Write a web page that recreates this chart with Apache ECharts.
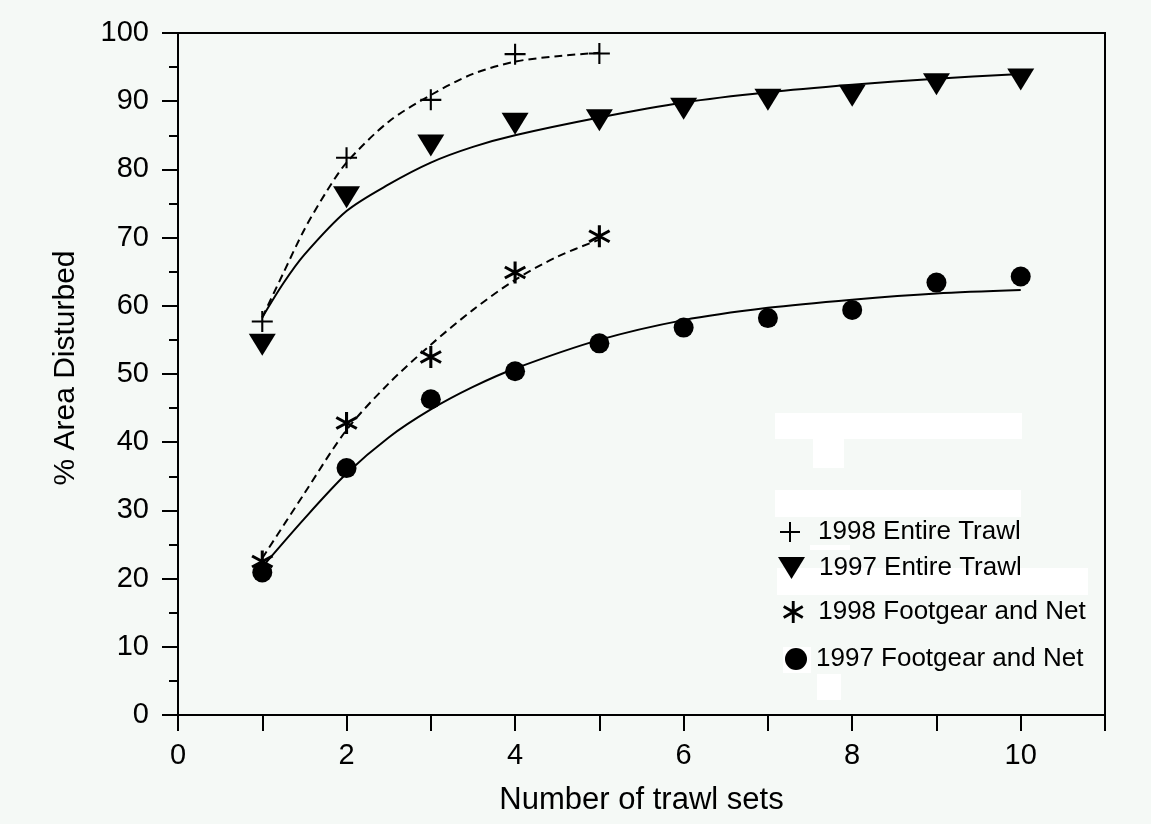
<!DOCTYPE html>
<html>
<head>
<meta charset="utf-8">
<title>% Area Disturbed vs Number of trawl sets</title>
<script src="https://cdn.jsdelivr.net/npm/echarts@6/dist/echarts.min.js"></script>
<style>
  html, body { margin: 0; padding: 0; background: #f5f9f6; }
  #main { width: 1151px; height: 824px; }
</style>
</head>
<body>
<div id="main"></div>
<script>
const trawlSets = [1, 2, 3, 4, 5, 6, 7, 8, 9, 10];
const entire1998 = [57.7, 81.7, 90.2, 96.9, 97.0];
const entire1997 = [54.3, 75.9, 83.5, 86.7, 87.2, 88.9, 90.2, 90.8, 92.5, 93.2];
const footgear1998 = [22.5, 42.8, 52.5, 64.9, 70.2];
const footgear1997 = [20.9, 36.2, 46.3, 50.4, 54.5, 56.8, 58.2, 59.4, 63.4, 64.3];

// fitted curves, sampled off the figure
const fitX1998Entire = [1, 1.25, 1.5, 1.75, 2, 2.5, 3, 3.5, 4, 4.5, 5];
const fit1998Entire = [58.3, 64.8, 71.2, 76.5, 81.0, 87.0, 90.9, 94.0, 95.8, 96.6, 97.1];
const fitX1997Entire = [1, 1.25, 1.5, 2, 2.5, 3, 3.5, 4, 5, 6, 7, 8, 9, 10];
const fit1997Entire = [58.3, 63.3, 67.5, 73.9, 77.8, 81.0, 83.3, 85.0, 87.6, 89.8, 91.3, 92.4, 93.3, 94.0];
const fitX1998Foot = [1, 1.5, 2, 2.5, 3, 3.5, 4, 4.5, 5];
const fit1998Foot = [23.0, 32.5, 41.8, 48.6, 54.3, 59.4, 63.8, 67.2, 69.7];
const fitX1997Foot = [1, 1.5, 2, 2.5, 3, 3.5, 4, 5, 6, 7, 8, 9, 10];
const fit1997Foot = [21.7, 28.8, 35.4, 40.7, 44.8, 48.1, 50.8, 55.0, 57.9, 59.7, 60.9, 61.8, 62.3];

const seriesNames = ["1998 Entire Trawl", "1997 Entire Trawl", "1998 Footgear and Net", "1997 Footgear and Net"];

const FONT = "'Liberation Sans', Arial, sans-serif";

// marker shapes
const plusPath = "path://M9,0h2v9h9v2h-9v9h-2v-9h-9v-2h9z";
const triPath = "path://M0,0L27,0L13.5,22Z";
const starPath = "path://M8.7,0h2.6v20h-2.6z" +
  "M2.0,3.87L19.3,13.87L18.0,16.13L0.7,6.13z" +
  "M0.7,13.87L18.0,3.87L19.3,6.13L2.0,16.13z";

const zip = (xs, ys) => ys.map((y, i) => [xs[i], y]);

var chartDom = document.getElementById("main");
var myChart = echarts.init(chartDom);

function pointSeries(name, ys, symbol, size) {
  return {
    name: name,
    type: "scatter",
    data: zip(trawlSets, ys),
    symbol: symbol,
    symbolSize: size,
    itemStyle: { color: "#000", opacity: 1 },
    z: 5,
  };
}

function fitSeries(xs, ys, dashed) {
  return {
    type: "line",
    data: zip(xs, ys),
    showSymbol: false,
    smooth: 0.3,
    silent: true,
    lineStyle: { color: "#000", width: 2, type: dashed ? [8, 5] : "solid" },
    z: 3,
  };
}

// legend rows, one legend component each
const legendRows = [
  { icon: plusPath, left: 780, top: 519, w: 20, h: 20, pad: 13 },
  { icon: triPath, left: 778, top: 555, w: 27, h: 22, pad: 9 },
  { icon: starPath, left: 783, top: 599, w: 22, h: 22, pad: 9 },
  { icon: "circle", left: 785, top: 646, w: 22, h: 22, pad: 4 },
];

// white patches visible in the legend area of the original
const patches = [
  [775, 413, 247, 26], [813, 439, 31, 29], [775, 490, 246, 27],
  [810, 545, 40, 5], [777, 568, 311, 27], [783, 647, 28, 26], [817, 674, 24, 26],
];

var option = {
  backgroundColor: "#f5f9f6",
  animation: false,
  textStyle: { fontFamily: FONT },
  grid: {
    left: 178, right: 46, top: 33, bottom: 109,
    show: true, borderColor: "#000", borderWidth: 2, backgroundColor: "transparent",
  },
  graphic: patches.map((p) => ({
    type: "rect", z: 1, silent: true,
    shape: { x: p[0], y: p[1], width: p[2], height: p[3] },
    style: { fill: "#ffffff" },
  })),
  legend: legendRows.map((r, i) => ({
    data: [{ name: seriesNames[i], icon: r.icon }],
    left: r.left, top: r.top, padding: 0,
    itemWidth: r.w, itemHeight: r.h,
    selectedMode: false,
    textStyle: { fontFamily: FONT, fontSize: 26, color: "#000", padding: [0, 0, 0, r.pad] },
  })),
  xAxis: {
    type: "value", min: 0, max: 11, interval: 1,
    name: "Number of trawl sets", nameLocation: "middle", nameGap: 70,
    nameTextStyle: { fontFamily: FONT, fontSize: 31, color: "#000" },
    axisLine: { onZero: false, lineStyle: { color: "#000", width: 2 } },
    axisTick: { length: 16, lineStyle: { color: "#000", width: 2 } },
    axisLabel: {
      fontFamily: FONT, fontSize: 29, color: "#000", margin: 26,
      formatter: (v) => (v % 2 === 0 && v <= 10 ? String(v) : ""),
    },
    splitLine: { show: false },
  },
  yAxis: {
    type: "value", min: 0, max: 100, interval: 10,
    name: "% Area Disturbed", nameLocation: "middle", nameGap: 97,
    nameTextStyle: { fontFamily: FONT, fontSize: 30, color: "#000", padding: [0, 0, 0, 12] },
    axisLine: { onZero: false, lineStyle: { color: "#000", width: 2 } },
    axisTick: { length: 16, lineStyle: { color: "#000", width: 2 } },
    minorTick: { show: true, splitNumber: 2, length: 9, lineStyle: { color: "#000", width: 2 } },
    axisLabel: { fontFamily: FONT, fontSize: 29, color: "#000", margin: 29 },
    splitLine: { show: false },
  },
  series: [
    fitSeries(fitX1998Entire, fit1998Entire, true),
    fitSeries(fitX1997Entire, fit1997Entire, false),
    fitSeries(fitX1998Foot, fit1998Foot, true),
    fitSeries(fitX1997Foot, fit1997Foot, false),
    pointSeries(seriesNames[0], entire1998, plusPath, 21),
    pointSeries(seriesNames[1], entire1997, triPath, [27, 22]),
    pointSeries(seriesNames[2], footgear1998, starPath, 22),
    pointSeries(seriesNames[3], footgear1997, "circle", 20),
  ],
};

option && myChart.setOption(option);
</script>
</body>
</html>
